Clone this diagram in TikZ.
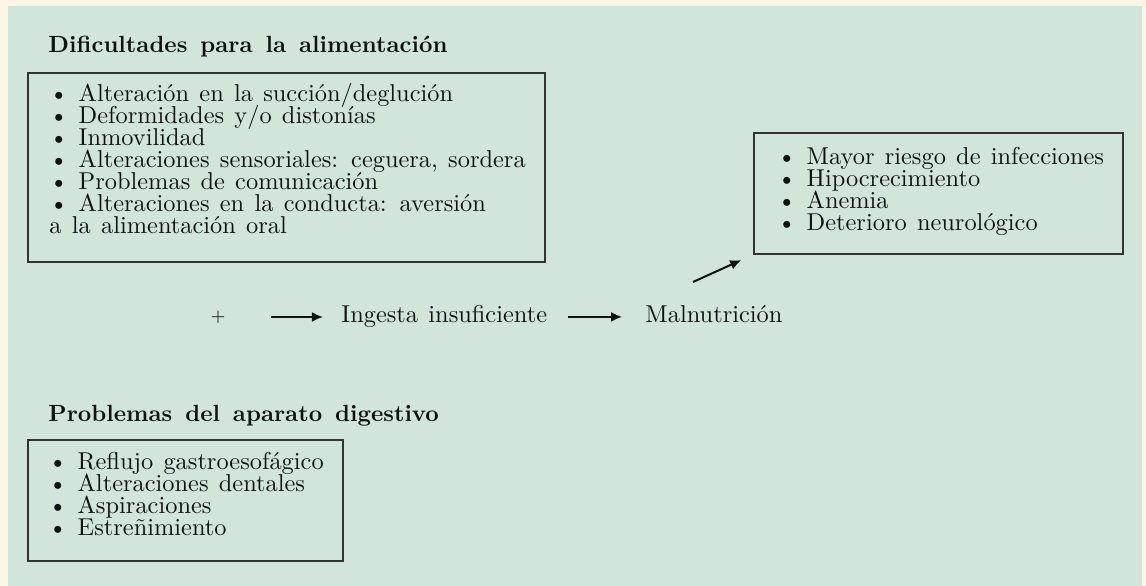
\documentclass[tikz,border=0pt]{standalone}
\usetikzlibrary{arrows.meta,fit}
\definecolor{cream}{HTML}{FDF5E3}
\definecolor{panel}{HTML}{D1E5DB}
\definecolor{ink}{HTML}{111111}
\definecolor{framec}{HTML}{333333}
\newcommand\mybodyfont{\fontsize{10}{8.8}\selectfont\spaceskip=4.2pt plus 1pt minus 0.5pt\relax}
\newcommand\myheadfont{\fontsize{9.6}{11}\selectfont\bfseries\spaceskip=5.3pt plus 1pt minus 0.5pt\relax}
\begin{document}
\begin{tikzpicture}[x=0.41pt,y=-0.41pt,
  txt/.style={inner sep=0pt, anchor=base west, font=\mybodyfont, text=ink},
  head/.style={inner sep=0pt, anchor=base west, font=\myheadfont, text=ink},
  boxst/.style={draw=framec, line width=0.5pt, inner sep=0pt},
  arr/.style={-{Latex[length=4.5pt,width=4.1pt]}, line width=0.82pt, draw=ink}]
\fill[cream] (0,0) rectangle (1146,586);
\fill[panel] (8,6) rectangle (1142,586);
% top group
\node[head] (t1) at (48,53) {Dificultades para la alimentación};
\node[boxst, fit={(28,73) (545,262)}] (b1) {};
\foreach \t [count=\i from 0] in {{\textbullet\ Alteración en la succión/deglución},
  {\textbullet\ Deformidades y/o distonías},
  {\textbullet\ Inmovilidad},
  {\textbullet\ Alteraciones sensoriales: ceguera, sordera},
  {\textbullet\ Problemas de comunicación},
  {\textbullet\ Alteraciones en la conducta: aversión},
  {a la alimentación oral}}
  \node[txt] (a\i) at (49,102+22*\i) {\t};
% bottom group
\node[head] (t2) at (48,422) {Problemas del aparato digestivo};
\node[boxst, fit={(28,440) (343,561)}] (b2) {};
\foreach \t [count=\i from 0] in {{\textbullet\ Reflujo gastroesofágico},
  {\textbullet\ Alteraciones dentales},
  {\textbullet\ Aspiraciones},
  {\textbullet\ Estreñimiento}}
  \node[txt] (p\i) at (48,470+22*\i) {\t};
% right group
\node[boxst, fit={(754,133) (1123,254)}] (b3) {};
\foreach \t [count=\i from 0] in {{\textbullet\ Mayor riesgo de infecciones},
  {\textbullet\ Hipocrecimiento},
  {\textbullet\ Anemia},
  {\textbullet\ Deterioro neurológico}}
  \node[txt] (r\i) at (777,165+22*\i) {\t};
% middle chain
\node[inner sep=0pt, font=\fontsize{7}{8}\selectfont, text=ink] (plus) at (218,317) {+};
\node[txt] (ing) at (341,323) {Ingesta insuficiente};
\node[txt] (mal) at (645,323) {Malnutrición};
\coordinate (d1) at (693,282);
\draw[arr, shorten <=18.6pt, shorten >=7.4pt] (plus.east) -- (plus.east -| ing.west);
\draw[arr, shorten <=8.2pt, shorten >=9.4pt] (ing.east) -- (ing.east -| mal.west);
\draw[arr, shorten >=5.5pt] (d1) -- (b3.south west);
\end{tikzpicture}
\end{document}
